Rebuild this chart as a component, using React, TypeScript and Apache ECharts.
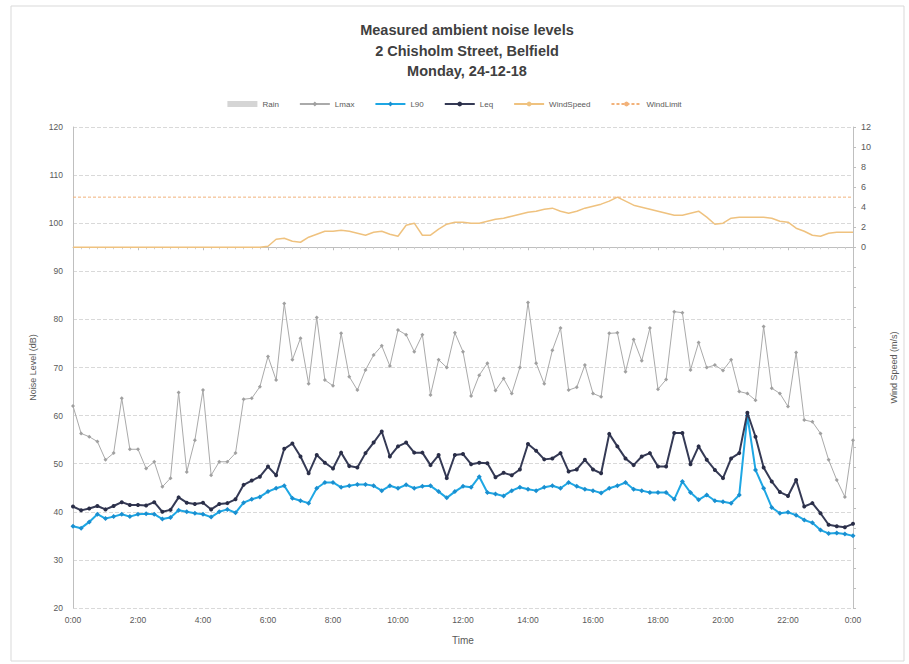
import React, { useEffect, useRef } from "react";
import * as echarts from "echarts";

// 15-minute steps from 0:00 to 24:00 (97 samples)
const minutes: number[] = Array.from({ length: 97 }, (_, i) => i * 15);

const xTickLabels = ["0:00", "2:00", "4:00", "6:00", "8:00", "10:00", "12:00", "14:00", "16:00", "18:00", "20:00", "22:00", "0:00"];

const lmax: number[] = [
  62.0, 56.3, 55.6, 54.6, 50.8, 52.2, 63.6, 53.0, 53.0, 49.0, 50.4, 45.2, 47.0, 64.8, 48.3, 54.9,
  65.3, 47.6, 50.4, 50.4, 52.2, 63.4, 63.6, 66.0, 72.3, 67.4, 83.3, 71.6, 76.1, 66.6, 80.4, 67.4,
  66.2, 77.1, 68.1, 65.3, 69.5, 72.6, 74.5, 70.3, 77.8, 76.8, 73.3, 76.8, 64.3, 71.6, 70.0, 77.2,
  73.3, 64.1, 68.4, 70.9, 65.2, 67.7, 64.6, 70.0, 83.5, 70.9, 66.6, 73.6, 78.2, 65.3, 65.9, 70.5,
  64.6, 63.9, 77.1, 77.2, 69.1, 75.8, 71.4, 78.2, 65.5, 67.5, 81.6, 81.4, 69.5, 75.2, 70.0, 70.5,
  69.4, 71.6, 65.0, 64.6, 63.2, 78.5, 65.7, 64.6, 61.9, 73.1, 59.1, 58.7, 56.3, 50.8, 46.6, 43.1,
  54.9,
];

const l90: number[] = [
  37.0, 36.6, 37.9, 39.5, 38.6, 39.0, 39.5, 39.0, 39.5, 39.6, 39.5, 38.5, 38.8, 40.3, 40.0, 39.7,
  39.5, 38.9, 40.0, 40.5, 39.8, 41.9, 42.6, 43.1, 44.2, 44.9, 45.4, 42.8, 42.3, 41.8, 44.9, 46.1,
  46.1, 45.1, 45.4, 45.7, 45.7, 45.4, 44.4, 45.4, 44.9, 45.6, 44.9, 45.3, 45.4, 44.2, 42.9, 44.2,
  45.3, 45.1, 47.3, 44.0, 43.7, 43.3, 44.4, 45.1, 44.7, 44.4, 45.1, 45.4, 44.9, 46.1, 45.3, 44.7,
  44.4, 43.9, 44.9, 45.4, 46.1, 44.7, 44.4, 44.0, 44.0, 44.0, 42.6, 46.3, 44.0, 42.5, 43.5, 42.3,
  42.1, 41.8, 43.5, 60.0, 48.7, 44.9, 40.9, 39.7, 39.9, 39.3, 38.3, 37.7, 36.2, 35.5, 35.6, 35.4,
  35.0,
];

const leq: number[] = [
  41.1, 40.3, 40.7, 41.2, 40.5, 41.2, 42.0, 41.4, 41.4, 41.3, 42.0, 40.0, 40.4, 43.0, 41.9, 41.6,
  41.9, 40.5, 41.6, 41.8, 42.6, 45.6, 46.5, 47.3, 49.4, 47.6, 53.1, 54.2, 51.5, 48.0, 51.8, 50.2,
  49.0, 52.3, 49.5, 49.2, 52.2, 54.4, 56.7, 51.5, 53.6, 54.4, 52.3, 52.3, 49.7, 51.8, 47.0, 51.8,
  52.0, 49.9, 50.2, 50.1, 47.2, 48.1, 47.6, 48.8, 54.1, 52.7, 50.9, 51.1, 52.2, 48.4, 48.8, 50.8,
  48.8, 48.0, 56.2, 53.6, 51.1, 49.7, 51.5, 52.2, 49.4, 49.4, 56.4, 56.4, 49.9, 53.6, 50.8, 48.7,
  47.0, 51.1, 52.2, 60.6, 55.6, 49.2, 46.3, 44.1, 43.3, 46.6, 41.1, 41.8, 39.7, 37.3, 37.0, 36.8,
  37.5,
];

const windSpeed: number[] = [
  0, 0, 0, 0, 0, 0, 0, 0, 0, 0, 0, 0, 0, 0, 0, 0,
  0, 0, 0, 0, 0, 0, 0, 0, 0.1, 0.8, 0.9, 0.6, 0.5, 1.0, 1.3, 1.6,
  1.6, 1.7, 1.6, 1.4, 1.2, 1.5, 1.6, 1.3, 1.1, 2.2, 2.4, 1.2, 1.2, 1.8, 2.3, 2.5,
  2.5, 2.4, 2.4, 2.6, 2.8, 2.9, 3.1, 3.3, 3.5, 3.6, 3.8, 3.9, 3.6, 3.4, 3.6, 3.9,
  4.1, 4.3, 4.6, 5.0, 4.6, 4.2, 4.0, 3.8, 3.6, 3.4, 3.2, 3.2, 3.4, 3.6, 3.0, 2.3,
  2.4, 2.9, 3.0, 3.0, 3.0, 3.0, 2.9, 2.6, 2.5, 1.9, 1.6, 1.2, 1.1, 1.4, 1.5, 1.5,
  1.5,
];

const windLimit: number[] = minutes.map(() => 5);
const rain: number[] = [];

const pair = (arr: number[]) => arr.map((v, i) => [minutes[i], v]);

export default function App() {
  const ref = useRef<HTMLDivElement>(null);

  useEffect(() => {
    if (!ref.current) return;
    const chart = echarts.init(ref.current, undefined, { renderer: "svg" });
    const font = "'Liberation Sans', Arial, sans-serif";
    const labelColor = "#595959";
    chart.setOption({
      animation: false,
      backgroundColor: "#ffffff",
      textStyle: { fontFamily: font },
      graphic: [
        {
          type: "rect",
          shape: { x: 11, y: 6, width: 893, height: 655 },
          style: { fill: "none", stroke: "#d9d9d9", lineWidth: 1 },
          silent: true,
        },
      ],
      title: {
        text: "Measured ambient noise levels\n2 Chisholm Street, Belfield\nMonday, 24-12-18",
        left: 462,
        textAlign: "center",
        top: 15,
        textStyle: {
          fontFamily: font,
          fontSize: 14.5,
          fontWeight: "bold",
          color: "#404040",
          lineHeight: 20.5,
          align: "center",
        },
      },
      legend: {
        top: 95,
        left: "center",
        itemWidth: 30,
        itemHeight: 6,
        itemGap: 20,
        textStyle: { fontFamily: font, fontSize: 8, color: labelColor },
        data: [
          { name: "Rain", icon: "rect", itemStyle: { color: "#d5d5d5" } },
          { name: "Lmax" },
          { name: "L90" },
          { name: "Leq" },
          { name: "WindSpeed" },
          { name: "WindLimit" },
        ],
      },
      grid: { left: 73, right: 56, top: 127, bottom: 56, containLabel: false },
      xAxis: {
        type: "value",
        min: 0,
        max: 1440,
        interval: 120,
        name: "Time",
        nameLocation: "middle",
        nameGap: 27,
        nameTextStyle: { fontFamily: font, fontSize: 10, color: labelColor },
        axisLine: { show: true, lineStyle: { color: "#bfbfbf" } },
        axisTick: { show: true, length: 3, lineStyle: { color: "#bfbfbf" } },
        minorTick: { show: true, splitNumber: 8, length: 2, lineStyle: { color: "#d0d0d0" } },
        splitLine: { show: false },
        axisLabel: {
          fontFamily: font,
          fontSize: 8.5,
          color: labelColor,
          margin: 7,
          formatter: (v: number) => xTickLabels[Math.round(v / 120)] ?? "",
        },
      },
      yAxis: [
        {
          type: "value",
          min: 20,
          max: 120,
          interval: 10,
          name: "Noise Level (dB)",
          nameLocation: "middle",
          nameGap: 32,
          nameRotate: 90,
          nameTextStyle: { fontFamily: font, fontSize: 9, color: labelColor },
          axisLine: { show: true, lineStyle: { color: "#bfbfbf" } },
          axisTick: { show: false },
          splitLine: { show: true, lineStyle: { color: "#d9d9d9", type: [4, 2], width: 1 } },
          axisLabel: { fontFamily: font, fontSize: 8.5, color: labelColor, margin: 10 },
        },
        {
          type: "value",
          min: -36,
          max: 12,
          interval: 2,
          position: "right",
          name: "Wind Speed (m/s)",
          nameLocation: "middle",
          nameGap: 36,
          nameRotate: 90,
          nameTextStyle: { fontFamily: font, fontSize: 9, color: labelColor },
          axisLine: { show: true, lineStyle: { color: "#bfbfbf" } },
          axisTick: { show: true, length: 3, lineStyle: { color: "#bfbfbf" } },
          splitLine: { show: false },
          axisLabel: {
            fontFamily: font,
            fontSize: 9,
            color: labelColor,
            margin: 8,
            formatter: (v: number) => (v >= 0 ? String(v) : ""),
          },
        },
      ],
      series: [
        {
          name: "Rain",
          type: "bar",
          yAxisIndex: 1,
          data: pair(rain),
          itemStyle: { color: "#d5d5d5" },
        },
        {
          name: "Lmax",
          type: "line",
          data: pair(lmax),
          yAxisIndex: 0,
          lineStyle: { color: "#aaaaaa", width: 1 },
          itemStyle: { color: "#a0a0a0" },
          symbol: "diamond",
          symbolSize: 4,
          z: 3,
        },
        {
          name: "L90",
          type: "line",
          data: pair(l90),
          yAxisIndex: 0,
          lineStyle: { color: "#1ea7e4", width: 2 },
          itemStyle: { color: "#1a8fd0" },
          symbol: "diamond",
          symbolSize: 5,
          z: 4,
        },
        {
          name: "Leq",
          type: "line",
          data: pair(leq),
          yAxisIndex: 0,
          lineStyle: { color: "#353a55", width: 2 },
          itemStyle: { color: "#2a2e48" },
          symbol: "circle",
          symbolSize: 4,
          z: 5,
        },
        {
          name: "WindSpeed",
          type: "line",
          data: pair(windSpeed),
          yAxisIndex: 1,
          lineStyle: { color: "#efc27f", width: 1.5 },
          itemStyle: { color: "#efc27f" },
          showSymbol: false,
          symbol: "none",
          z: 2,
        },
        {
          name: "WindLimit",
          type: "line",
          data: pair(windLimit),
          yAxisIndex: 1,
          lineStyle: { color: "#f2b27a", width: 1, type: [3, 2] },
          itemStyle: { color: "#f2b27a" },
          showSymbol: false,
          symbol: "none",
          z: 2,
        },
      ],
    });
    return () => chart.dispose();
  }, []);

  return (
    <div
      ref={ref}
      style={{ position: "absolute", left: 0, top: 0, width: 909, height: 664 }}
    />
  );
}
